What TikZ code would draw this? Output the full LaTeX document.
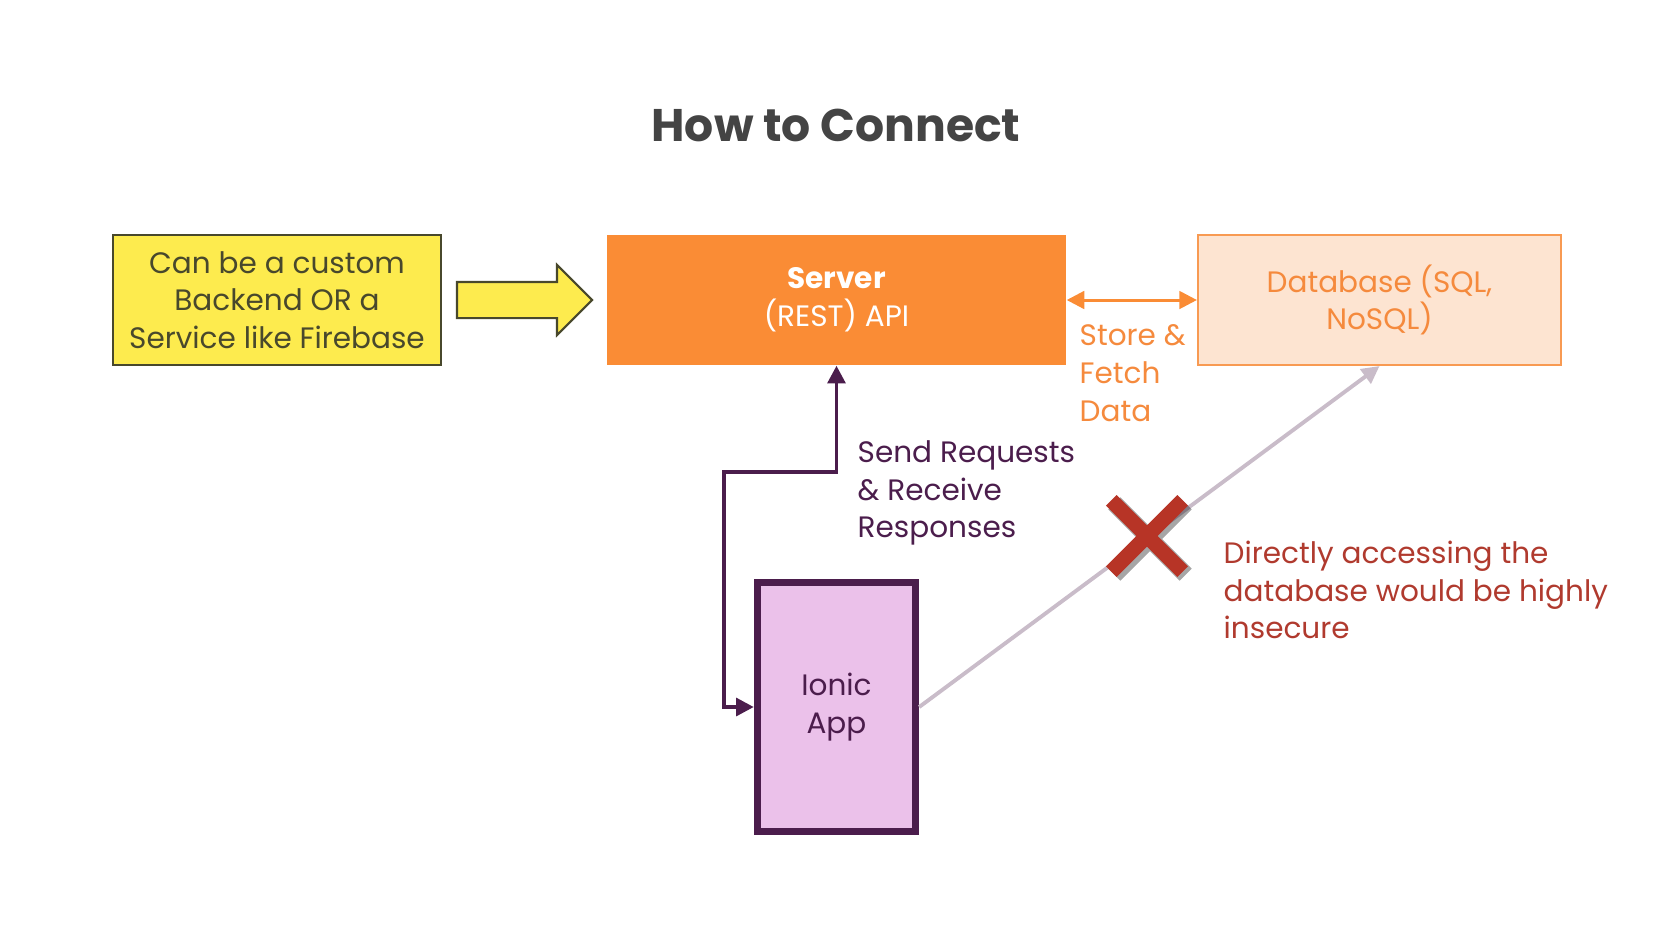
\documentclass[tikz,border=0pt]{standalone}
\usepackage{fontspec}
\setmainfont{Poppins}
\usetikzlibrary{arrows.meta,shapes.arrows,positioning}
\definecolor{titlegray}{HTML}{444444}
\definecolor{backendyellow}{HTML}{FDEB4E}
\definecolor{backendtext}{HTML}{48482C}
\definecolor{serverorange}{HTML}{FA8C35}
\definecolor{dbfill}{HTML}{FDE4D1}
\definecolor{dbline}{HTML}{F89A52}
\definecolor{dbtext}{HTML}{F58A3D}
\definecolor{apppurple}{HTML}{4B1D4C}
\definecolor{appfill}{HTML}{EBC1EA}
\definecolor{directgray}{HTML}{C9BCC9}
\definecolor{crossred}{HTML}{B73426}
\definecolor{warnred}{HTML}{B03A2E}
\tikzset{
  bodyfont/.style={font=\fontsize{8.4}{10.75}\selectfont},
  box/.style={bodyfont, align=center, inner sep=0pt, minimum height=1.3cm},
}
\begin{document}
\begin{tikzpicture}
    \useasboundingbox (0,0) rectangle (16.7,-9.4);
    \node[font=\fontsize{13}{16}\selectfont\bfseries, text=titlegray] (title) at (8.36,-1.25) {How to Connect};
    \node[box, draw=backendtext, line width=0.6pt, fill=backendyellow, text=backendtext, minimum width=3.28cm] (backend) at (2.77,-3.0) {Can be a custom\\Backend OR a\\Service like Firebase};
    \node[single arrow, draw=backendtext, line width=0.6pt, fill=backendyellow, inner xsep=0pt, inner ysep=0.17cm, minimum height=1.35cm, single arrow head extend=0.17cm] (pointer) at (5.155,-3.0) {};
    \node[box, fill=serverorange, text=white, minimum width=4.59cm] (server) at (8.365,-3.0) {\textbf{Server}\\(REST) API};
    \node[box, draw=dbline, line width=0.6pt, fill=dbfill, text=dbtext, minimum width=3.63cm] (db) at (13.795,-3.0) {Database (SQL,\\NoSQL)};
    \node[box, draw=apppurple, line width=2.1pt, fill=appfill, text=apppurple, minimum width=1.58cm, minimum height=2.49cm] (app) at (8.365,-7.07) {Ionic\\App};
    \node[bodyfont, align=left, anchor=west, inner sep=0pt, text=dbtext] (storelbl) at (10.79,-3.73) {Store \&\\Fetch\\Data};
    \node[bodyfont, align=left, anchor=west, inner sep=0pt, text=apppurple] (sendlbl) at (8.57,-4.93) {Send Requests\\\& Receive\\Responses};
    \node[bodyfont, align=left, anchor=west, inner sep=0pt, text=warnred] (warnlbl) at (12.23,-5.90) {Directly accessing the\\database would be highly\\insecure};
    \coordinate (bend) at (7.24,-4.72);
    \node[inner sep=0pt, minimum size=0.7cm] (cross) at (11.47,-5.36) {};

    \draw[{Triangle[length=5pt,width=5pt]}-{Triangle[length=5pt,width=5pt]}, serverorange, line width=0.85pt] (server.east) -- (db.west);
    \draw[{Triangle[length=5pt,width=5pt]}-{Triangle[length=5pt,width=5pt]}, apppurple, line width=1.1pt] (app.west) -| (bend) -| (server.south);
    \draw[-{Triangle[length=5pt,width=5pt]}, directgray, line width=1.1pt] (app.east) -- (db.south);
    % red cross with a soft shadow
    \draw[black, opacity=0.35, line width=0.17cm] ([shift={(0.03,-0.03)}]cross.north west) -- ([shift={(0.03,-0.03)}]cross.south east)
        ([shift={(0.03,-0.03)}]cross.north east) -- ([shift={(0.03,-0.03)}]cross.south west);
    \draw[crossred, line width=0.15cm] (cross.north west) -- (cross.south east)
        (cross.north east) -- (cross.south west);
\end{tikzpicture}
\end{document}
